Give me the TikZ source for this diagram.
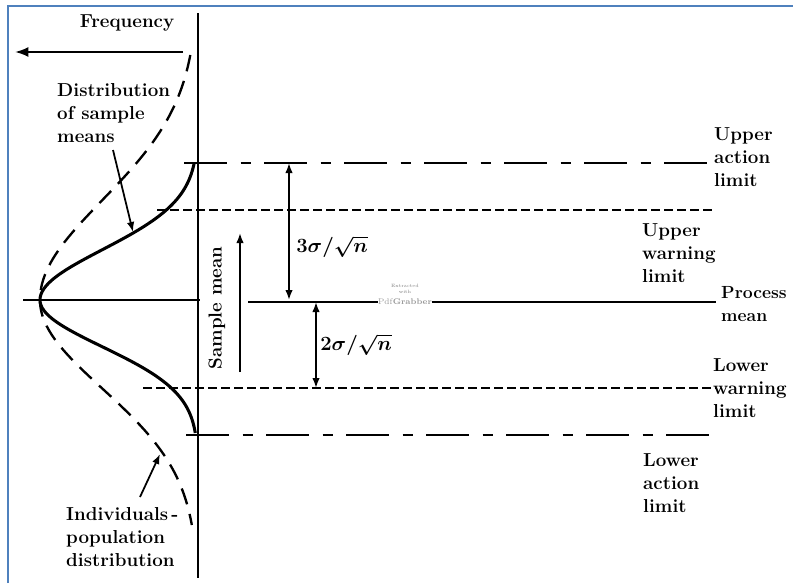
\documentclass[tikz,border=0pt]{standalone}
\usepackage{amsmath}
\usepackage{tikz}
\usetikzlibrary{arrows.meta}
\definecolor{framecol}{RGB}{79,129,189}

\begin{document}
\begin{tikzpicture}[
  x=0.03cm, y=-0.03cm,
  lbl/.style={inner sep=0pt, align=left, font=\fontsize{16}{19.6}\selectfont\bfseries\boldmath},
  actline/.style={line width=2pt, dash pattern=on 1.3cm off 0.4cm on 0.3cm off 0.4cm},
  warnline/.style={line width=2pt, dash pattern=on 0.26cm off 0.13cm},
  arr/.style={line width=1.5pt, -{Latex[length=3mm]}},
  dimarr/.style={line width=1.5pt, {Latex[length=3mm]}-{Latex[length=3mm]}}
]
  \useasboundingbox (0,0) rectangle (793,583);
  % frame
  \draw[framecol, line width=2.5pt] (8,583) -- (8,6) -- (793,6);

  % axis
  \coordinate (atop) at (198,13);
  \coordinate (abot) at (198,578);
  \draw[line width=2.4pt] (atop) -- (abot);

  % frequency
  \node[lbl] (freq) at (127,23) {Frequency};
  \coordinate (f1) at (183,52);
  \coordinate (f2) at (15,52);
  \draw[line width=1.8pt, -{Latex[length=4mm,width=3mm]}] (f1) -- (f2);

  % population distribution (dashed)
  \draw[line width=2pt, dash pattern=on 0.5cm off 0.3cm]
    plot[domain=55:300, samples=60, variable=\t]
      ({198-158*exp(-((\t-300)/141)*((\t-300)/141))}, \t)
    -- plot[domain=300:525, samples=60, variable=\t]
      ({198-158*exp(-((\t-300)/125)*((\t-300)/125))}, \t);
  % sample means distribution (solid)
  \draw[line width=2.6pt]
    plot[domain=163:300, samples=50, variable=\t]
      ({198-158*exp(-((\t-300)/71)*((\t-300)/71))}, \t)
    -- plot[domain=300:433, samples=50, variable=\t]
      ({198-158*exp(-((\t-300)/66)*((\t-300)/66))}, \t);

  % limit lines
  \coordinate (ua1) at (184,163);  \coordinate (ua2) at (710,163);
  \coordinate (uw1) at (157,210);  \coordinate (uw2) at (712,210);
  \coordinate (pm1) at (23,300);   \coordinate (pm2) at (200,300);
  \coordinate (pm3) at (248,302);  \coordinate (pm4) at (378,302);
  \coordinate (pm5) at (432,302);  \coordinate (pm6) at (716,302);
  \coordinate (lw1) at (143,388);  \coordinate (lw2) at (716,388);
  \coordinate (la1) at (186,435);  \coordinate (la2) at (720,435);
  \draw[actline] (ua1) -- (ua2);
  \draw[warnline] (uw1) -- (uw2);
  \draw[line width=2pt] (pm1) -- (pm2);
  \draw[line width=2pt] (pm3) -- (pm4);
  \draw[line width=2pt] (pm5) -- (pm6);
  \draw[warnline] (lw1) -- (lw2);
  \draw[actline] (la1) -- (la2);

  % watermark
  \node[inner sep=0pt, gray, font=\fontsize{4}{4.5}\selectfont, align=center] (wm1) at (405,289) {Extracted\\with};
  \node[inner sep=0pt, gray!80, font=\fontsize{7}{8}\selectfont] (wm2) at (405,302) {Pdf\textbf{Grabber}};

  % sample mean
  \node[lbl, rotate=90] (smean) at (217,308) {Sample mean};
  \coordinate (s1) at (240,372);
  \coordinate (s2) at (240,233);
  \draw[arr] (s1) -- (s2);

  % sigma arrows
  \coordinate (d1) at (289,163);  \coordinate (d2) at (289,300);
  \coordinate (d3) at (316,302);  \coordinate (d4) at (316,388);
  \draw[dimarr] (d1) -- (d2);
  \draw[dimarr] (d3) -- (d4);
  \node[lbl] (three) at (332,247) {$3\sigma/\sqrt{n}$};
  \node[lbl] (two) at (356,345) {$2\sigma/\sqrt{n}$};

  % labels
  \node[lbl, anchor=west] (uacl) at (714,157) {Upper\\action\\limit};
  \node[lbl, anchor=west] (uwl) at (642,253) {Upper\\warning\\limit};
  \node[lbl, anchor=west, font=\fontsize{15}{19.6}\selectfont\bfseries] (pml) at (721,304) {Process\\mean};
  \node[lbl, anchor=west] (lwl) at (713,388) {Lower\\warning\\limit};
  \node[lbl, anchor=west] (lacl) at (643,483) {Lower\\action\\limit};
  \node[lbl, anchor=west] (dsm) at (57,113) {Distribution\\of sample\\means};
  \node[lbl, anchor=west] (ipd) at (66,537) {Individuals\,-\\population\\distribution};

  % pointers
  \coordinate (p1) at (113,150);  \coordinate (p2) at (133,232);
  \coordinate (p3) at (140,497);  \coordinate (p4) at (160,454);
  \draw[arr] (p1) -- (p2);
  \draw[arr] (p3) -- (p4);
\end{tikzpicture}
\end{document}
